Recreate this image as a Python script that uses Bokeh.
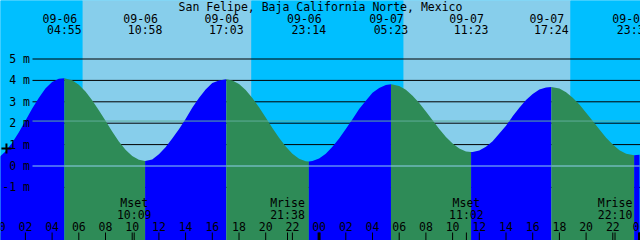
from bokeh.plotting import figure
from bokeh.models import Range1d
from bokeh.core.properties import value
from bokeh.embed import file_html
from bokeh.resources import INLINE

# ---------------- data ----------------
title = "San Felipe, Baja California Norte, Mexico"
days = ["09-06", "09-07"]

# tide extremes (high / low)
ext_dates = ["09-06", "09-06", "09-06", "09-06", "09-07", "09-07", "09-07", "09-07"]
ext_times = ["04:55", "10:58", "17:03", "23:14", "05:23", "11:23", "17:24", "23:36"]
ext_kind = ["H", "L", "H", "L", "H", "L", "H", "L"]
ext_m = [4.10, 0.23, 4.05, 0.21, 3.82, 0.65, 3.69, 0.50]

# tide height read every half hour (hours since 09-06 00:00)
read_hours = [0, 0.5, 1, 1.5, 2, 2.5, 3, 3.5, 4, 4.5,
              5.5, 6, 6.5, 7, 7.5, 8, 8.5, 9, 9.5, 10, 10.5,
              11.5, 12, 12.5, 13, 13.5, 14, 14.5, 15, 15.5, 16, 16.5,
              17.5, 18, 18.5, 19, 19.5, 20, 20.5, 21, 21.5, 22, 22.5, 23,
              23.5, 24, 24.5, 25, 25.5, 26, 26.5, 27, 27.5, 28, 28.5, 29,
              29.5, 30, 30.5, 31, 31.5, 32, 32.5, 33, 33.5, 34, 34.5, 35,
              35.5, 36, 36.5, 37, 37.5, 38, 38.5, 39, 39.5, 40, 40.5, 41,
              41.5, 42, 42.5, 43, 43.5, 44, 44.5, 45, 45.5, 46, 46.5, 47, 47.5,
              48]
read_m = [0.39, 0.68, 1.08, 1.56, 2.12, 2.68, 3.18, 3.62, 3.92, 4.08,
          4.01, 3.80, 3.48, 3.07, 2.61, 2.11, 1.61, 1.15, 0.76, 0.47, 0.29,
          0.30, 0.55, 0.88, 1.28, 1.72, 2.20, 2.72, 3.18, 3.58, 3.88, 4.00,
          4.00, 3.83, 3.55, 3.18, 2.74, 2.27, 1.78, 1.32, 0.91, 0.57, 0.34, 0.22,
          0.23, 0.35, 0.57, 0.90, 1.29, 1.73, 2.19, 2.66, 3.05, 3.42, 3.64, 3.79,
          3.81, 3.74, 3.56, 3.28, 2.94, 2.55, 2.14, 1.73, 1.36, 1.05, 0.82, 0.68,
          0.66, 0.73, 0.90, 1.16, 1.52, 1.88, 2.32, 2.72, 3.08, 3.36, 3.57, 3.67,
          3.68, 3.62, 3.45, 3.19, 2.87, 2.49, 2.10, 1.70, 1.32, 1.00, 0.74, 0.57, 0.51,
          0.52]

# sun events (background shading)
sun_dates = ["09-06", "09-06", "09-07", "09-07"]
sun_times = ["06:17", "18:56", "06:19", "18:50"]

# moon events
moon_dates = ["09-06", "09-06", "09-07", "09-07"]
moon_kind = ["Mset", "Mrise", "Mset", "Mrise"]
moon_times = ["10:09", "21:38", "11:02", "22:10"]

# height scale
level_m = [-1, 0, 1, 2, 3, 4, 5]
level_labels = ["-1 m", "0 m", "1 m", "2 m", "3 m", "4 m", "5 m"]
datum_m = 0.0
msl_m = 2.10
mark_hour = [0.58]
mark_m = [0.82]

hour_ticks = list(range(0, 49, 2))
hour_labels = ["%02d" % (h % 24) for h in hour_ticks]

# ---------------- layout constants (pixels) ----------------
W, H = 640, 240
X0, XS = -1.8, 13.35      # pixel of 09-06 00:00, pixels per hour
Y0, YS = 165.5, 21.4      # pixel of 0 m, pixels per metre


def px2h(px):
    return (px - X0) / XS


def py2m(py):
    return (Y0 - py) / YS


def hrs(d, hm):
    hh, mm = hm.split(":")
    return 24 * days.index(d) + int(hh) + int(mm) / 60.0


FONT = value("DejaVu Sans Mono")
FS = "11.5px"
SUN_UP = "#87CEEB"
SUN_DOWN = "#00BFFF"
RISE = "#0000FF"
FALL = "#2E8B57"

xr = Range1d(px2h(0), px2h(W))
yr = Range1d(py2m(H), py2m(0))

p = figure(width=W, height=H, x_range=xr, y_range=yr, output_backend="svg",
           toolbar_location=None, x_axis_type=None, y_axis_type=None, min_border=0)
p.outline_line_color = None
p.background_fill_color = SUN_DOWN
p.border_fill_color = SUN_DOWN
p.xgrid.visible = False
p.ygrid.visible = False

lo, hi = xr.start - 1, xr.end + 1
bot, top = yr.start - 1, yr.end + 1

# background day/night
sun_h = [hrs(d, t) for d, t in zip(sun_dates, sun_times)]
edges = [lo] + sun_h + [hi]
cols = [SUN_DOWN if i % 2 == 0 else SUN_UP for i in range(len(edges) - 1)]
p.quad(left=edges[:-1], right=edges[1:], bottom=bot, top=top, color=cols, line_color=None)

# level lines (behind the tide)
line_x0 = px2h(32)
p.segment(x0=[line_x0] * len(level_m), x1=[hi] * len(level_m), y0=level_m, y1=level_m,
          line_color="black", line_width=1)

# tide curve split into rising / falling parts
ext_h = [hrs(d, t) for d, t in zip(ext_dates, ext_times)]
pts = sorted([(h, m, None) for h, m in zip(read_hours, read_m)] +
             [(h, m, k) for h, m, k in zip(ext_h, ext_m, ext_kind)])
seg_x, seg_y = [], []
for h, m, k in pts:
    seg_x.append(h)
    seg_y.append(m)
    if k is not None:
        color = RISE if k == "H" else FALL
        p.varea(x=seg_x, y1=[bot] * len(seg_x), y2=seg_y, color=color)
        seg_x, seg_y = [h], [m]
if len(seg_x) > 1:
    color = RISE if ext_kind[-1] == "L" else FALL
    p.varea(x=seg_x, y1=[bot] * len(seg_x), y2=seg_y, color=color)

# datum and mean sea level lines
p.segment(x0=[line_x0], x1=[hi], y0=[datum_m], y1=[datum_m], line_color="#8ecfee", line_width=1)
p.segment(x0=[line_x0], x1=[hi], y0=[msl_m], y1=[msl_m], line_color="#5fae9a", line_width=1)

# y labels
p.text(x=[px2h(29.5)] * len(level_m), y=level_m, text=level_labels, text_font=FONT,
       text_font_size=FS, text_align="right", text_baseline="middle", text_color="black")

# marker
p.scatter(x=mark_hour, y=mark_m, marker="cross", size=10, line_width=2, color="black")

# title
p.text(x=[px2h(320)], y=[py2m(6)], text=[title], text_font=FONT, text_font_size=FS,
       text_align="center", text_baseline="middle", text_color="black")

# extreme labels
p.text(x=ext_h, y=[py2m(17.5)] * len(ext_h), text=ext_dates, x_offset=-4.5, text_font=FONT,
       text_font_size=FS, text_align="center", text_baseline="middle", text_color="black")
p.text(x=ext_h, y=[py2m(29.5)] * len(ext_h), text=ext_times, text_font=FONT,
       text_font_size=FS, text_align="center", text_baseline="middle", text_color="black")

# moon labels
moon_h = [hrs(d, t) for d, t in zip(moon_dates, moon_times)]
p.text(x=moon_h, y=[py2m(202)] * len(moon_h), text=moon_kind, text_font=FONT,
       text_font_size=FS, text_align="center", text_baseline="middle", text_color="black")
p.text(x=moon_h, y=[py2m(214)] * len(moon_h), text=moon_times, text_font=FONT,
       text_font_size=FS, text_align="center", text_baseline="middle", text_color="black")

# hour labels and ticks
p.text(x=hour_ticks, y=[py2m(225.5)] * len(hour_ticks), text=hour_labels, text_font=FONT,
       text_font_size=FS, text_align="center", text_baseline="middle", text_color="black")
t_y0, t_y1 = py2m(232), bot
p.segment(x0=hour_ticks, x1=hour_ticks, y0=[t_y0] * len(hour_ticks), y1=[t_y1] * len(hour_ticks),
          line_color="black", line_width=1)
mid = [h for h in hour_ticks if h % 24 == 0]
p.segment(x0=mid, x1=mid, y0=[t_y0] * len(mid), y1=[t_y1] * len(mid),
          line_color="black", line_width=3)
p.segment(x0=moon_h, x1=moon_h, y0=[t_y0] * len(moon_h), y1=[t_y1] * len(moon_h),
          line_color="black", line_width=1)

open("out.html", "w").write(file_html(p, INLINE))
